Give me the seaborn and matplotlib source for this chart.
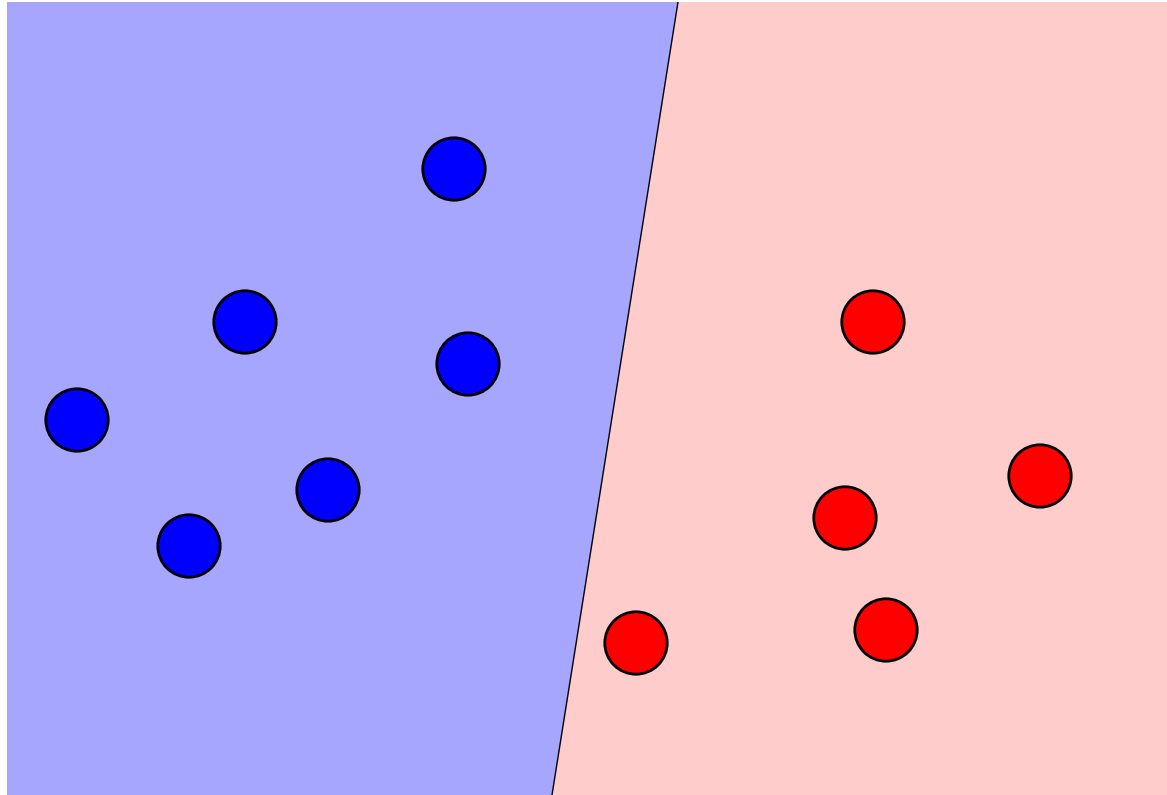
import numpy as np
import matplotlib
matplotlib.use("Agg")
import matplotlib.pyplot as plt
import seaborn as sns
import pandas as pd

sns.set_style("white")

# point data
blue_x = [4.47, 2.38, 4.61, 0.70, 3.21, 1.82]
blue_y = [6.26, 4.73, 4.31, 3.75, 3.05, 2.49]
red_x = [8.66, 10.33, 8.38, 8.79, 6.29]
red_y = [4.73, 3.19, 2.77, 1.65, 1.52]

# decision boundary (x at bottom and top of the view)
boundary_x = [5.45, 6.71]
boundary_y = [0.0, 7.93]

x_range = [0.0, 11.6]
y_range = [0.0, 7.93]

df = pd.DataFrame({
    "x": blue_x + red_x,
    "y": blue_y + red_y,
    "cls": ["blue"] * len(blue_x) + ["red"] * len(red_x),
})

fig = plt.figure(figsize=(11.67, 7.95), dpi=100)
ax = fig.add_axes([7 / 1167, 0, 1160 / 1167, 793 / 795])

# shaded regions either side of the boundary
ax.fill([x_range[0], boundary_x[0], boundary_x[1], x_range[0]],
        [y_range[0], boundary_y[0], boundary_y[1], y_range[1]],
        color="blue", alpha=0.35, lw=0)
ax.fill([boundary_x[0], x_range[1], x_range[1], boundary_x[1]],
        [boundary_y[0], y_range[0], y_range[1], boundary_y[1]],
        color="red", alpha=0.2, lw=0)
ax.plot(boundary_x, boundary_y, color="black", lw=1)

sns.scatterplot(data=df, x="x", y="y", hue="cls",
                palette={"blue": "#0000ff", "red": "#ff0000"},
                s=2020, edgecolor="black", linewidth=2,
                legend=False, ax=ax, zorder=3)

ax.set_xlim(x_range)
ax.set_ylim(y_range)
ax.set_axis_off()

plt.savefig("out.png", dpi=100)
